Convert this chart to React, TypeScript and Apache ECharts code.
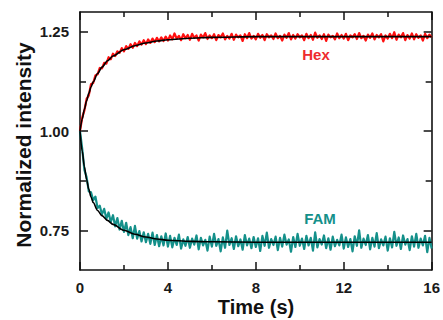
import React, { useEffect, useRef } from "react";
import * as echarts from "echarts";

const STEP = 0.1;
const hexValues = [
  1.000, 1.034, 1.052, 1.081, 1.090, 1.118, 1.121, 1.140, 1.143, 1.159,
  1.158, 1.172, 1.170, 1.186, 1.181, 1.195, 1.189, 1.201, 1.197, 1.209,
  1.201, 1.214, 1.207, 1.219, 1.210, 1.222, 1.214, 1.226, 1.218, 1.229,
  1.219, 1.231, 1.222, 1.233, 1.224, 1.235, 1.226, 1.236, 1.227, 1.238,
  1.228, 1.241, 1.231, 1.246, 1.233, 1.240, 1.229, 1.244, 1.234, 1.242,
  1.230, 1.245, 1.235, 1.241, 1.228, 1.243, 1.236, 1.247, 1.232, 1.241,
  1.234, 1.244, 1.229, 1.242, 1.236, 1.246, 1.231, 1.240, 1.233, 1.245,
  1.230, 1.243, 1.236, 1.241, 1.227, 1.244, 1.234, 1.247, 1.233, 1.240,
  1.231, 1.245, 1.235, 1.242, 1.229, 1.244, 1.236, 1.241, 1.232, 1.246,
  1.234, 1.240, 1.228, 1.243, 1.235, 1.247, 1.231, 1.242, 1.233, 1.244,
  1.236, 1.241, 1.229, 1.245, 1.234, 1.242, 1.230, 1.248, 1.235, 1.241,
  1.232, 1.244, 1.227, 1.243, 1.236, 1.240, 1.231, 1.246, 1.234, 1.242,
  1.233, 1.245, 1.229, 1.241, 1.236, 1.244, 1.232, 1.247, 1.234, 1.240,
  1.228, 1.243, 1.235, 1.246, 1.231, 1.242, 1.236, 1.244, 1.226, 1.241,
  1.233, 1.245, 1.234, 1.249, 1.230, 1.243, 1.236, 1.247, 1.229, 1.242,
  1.233, 1.246, 1.231, 1.244, 1.235, 1.241, 1.228, 1.245, 1.234, 1.243,
  1.236,
];
const famValues = [
  1.000, 0.956, 0.902, 0.884, 0.848, 0.846, 0.826, 0.835, 0.806, 0.812,
  0.790, 0.804, 0.779, 0.795, 0.771, 0.788, 0.760, 0.781, 0.752, 0.774,
  0.746, 0.769, 0.738, 0.758, 0.730, 0.761, 0.729, 0.748, 0.722, 0.745,
  0.720, 0.741, 0.716, 0.744, 0.713, 0.738, 0.710, 0.735, 0.712, 0.742,
  0.709, 0.736, 0.707, 0.731, 0.713, 0.739, 0.704, 0.727, 0.711, 0.733,
  0.706, 0.729, 0.714, 0.737, 0.702, 0.731, 0.712, 0.726, 0.699, 0.734,
  0.709, 0.741, 0.711, 0.728, 0.697, 0.732, 0.706, 0.749, 0.713, 0.730,
  0.703, 0.735, 0.710, 0.727, 0.701, 0.738, 0.712, 0.729, 0.705, 0.733,
  0.708, 0.730, 0.698, 0.736, 0.711, 0.744, 0.706, 0.728, 0.713, 0.734,
  0.700, 0.731, 0.709, 0.739, 0.714, 0.727, 0.696, 0.733, 0.708, 0.741,
  0.711, 0.729, 0.703, 0.736, 0.712, 0.731, 0.699, 0.745, 0.707, 0.728,
  0.714, 0.737, 0.705, 0.730, 0.701, 0.734, 0.710, 0.726, 0.712, 0.739,
  0.704, 0.732, 0.708, 0.728, 0.697, 0.735, 0.711, 0.750, 0.706, 0.729,
  0.713, 0.738, 0.702, 0.731, 0.709, 0.743, 0.705, 0.727, 0.712, 0.734,
  0.699, 0.730, 0.707, 0.746, 0.711, 0.732, 0.703, 0.737, 0.714, 0.728,
  0.700, 0.735, 0.709, 0.741, 0.706, 0.729, 0.712, 0.736, 0.695, 0.731,
  0.704,
];
const fitTimes = [0, 0.1, 0.2, 0.3, 0.4, 0.5, 0.6, 0.8, 1.0, 1.25, 1.5, 2, 2.5, 3, 3.5, 4, 5, 6, 8, 10, 12, 14, 16];
const hexFit = [1.000, 1.030, 1.055, 1.076, 1.095, 1.111, 1.124, 1.145, 1.161, 1.177, 1.189, 1.205, 1.215, 1.222, 1.227, 1.230, 1.234, 1.236, 1.238, 1.238, 1.238, 1.238, 1.238];
const famFit = [1.000, 0.950, 0.910, 0.878, 0.853, 0.834, 0.820, 0.800, 0.787, 0.775, 0.765, 0.750, 0.740, 0.733, 0.728, 0.725, 0.722, 0.721, 0.720, 0.720, 0.720, 0.720, 0.720];
const yMajorTicks = [0.75, 1.0, 1.25];
const yMinorTicks = [0.875, 1.125];

const RED = "#ff1010";
const TEAL = "#14908a";
const FONT = "'Liberation Sans', Arial, sans-serif";

export default function App() {
  const ref = useRef<HTMLDivElement>(null);
  useEffect(() => {
    if (!ref.current) return;
    const chart = echarts.init(ref.current, null, { renderer: "svg" });
    const toPairs = (vals: number[]) => vals.map((v, i) => [+(i * STEP).toFixed(1), v]);
    const fitPairs = (vals: number[]) => vals.map((v, i) => [fitTimes[i], v]);
    const axisLine = { show: true, lineStyle: { color: "#111", width: 1.6 } };
    const xCommon = {
      type: "value" as const,
      min: 0,
      max: 16,
      interval: 4,
      axisLine,
      splitLine: { show: false },
      axisTick: { inside: true, length: 8, lineStyle: { color: "#111", width: 1.5 } },
      minorTick: { show: true, splitNumber: 2, length: 5, lineStyle: { color: "#111", width: 1.5 } },
    };
    const yMajor = (pos: "left" | "right", labels: boolean) => ({
      type: "value" as const,
      position: pos,
      min: 0.65,
      max: 1.3,
      axisLine,
      splitLine: { show: false },
      axisTick: { inside: true, length: 8, customValues: yMajorTicks, lineStyle: { color: "#111", width: 1.5 } },
      axisLabel: {
        show: labels,
        customValues: yMajorTicks,
        formatter: (v: number) => v.toFixed(2),
        color: "#1a1a1a",
        fontFamily: FONT,
        fontWeight: "bold",
        fontSize: 15,
        margin: 11,
      },
    });
    const yMinor = (pos: "left" | "right") => ({
      type: "value" as const,
      position: pos,
      min: 0.65,
      max: 1.3,
      axisLine: { show: false },
      splitLine: { show: false },
      axisTick: { inside: true, length: 6, customValues: yMinorTicks, lineStyle: { color: "#111", width: 1.5 } },
      axisLabel: { show: false, customValues: yMinorTicks },
    });
    chart.setOption({
      animation: false,
      grid: { left: 80, right: 11, top: 12, bottom: 50 },
      xAxis: [
        {
          ...xCommon,
          position: "bottom",
          axisLabel: { color: "#1a1a1a", fontFamily: FONT, fontWeight: "bold", fontSize: 15, margin: 10 },
        },
        { ...xCommon, position: "top", axisLabel: { show: false } },
      ],
      yAxis: [yMajor("left", true), yMinor("left"), yMajor("right", false), yMinor("right")],
      series: [
        {
          type: "line",
          data: toPairs(hexValues),
          showSymbol: false,
          lineStyle: { color: RED, width: 2.2, join: "round" },
          z: 2,
        },
        {
          type: "line",
          data: toPairs(famValues),
          showSymbol: false,
          lineStyle: { color: TEAL, width: 2.2, join: "round" },
          z: 2,
        },
        {
          type: "line",
          data: fitPairs(hexFit),
          showSymbol: false,
          smooth: 0.3,
          smoothMonotone: "x",
          lineStyle: { color: "#000", width: 1.6 },
          z: 3,
        },
        {
          type: "line",
          data: fitPairs(famFit),
          showSymbol: false,
          smooth: 0.3,
          smoothMonotone: "x",
          lineStyle: { color: "#000", width: 1.6 },
          z: 3,
        },
      ],
      graphic: [
        {
          type: "text",
          x: 256,
          y: 307,
          style: { text: "Time (s)", fill: "#111", font: `bold 20px ${FONT}`, align: "center", verticalAlign: "middle" },
        },
        {
          type: "text",
          x: 23,
          y: 145,
          rotation: Math.PI / 2,
          style: { text: "Normalized intensity", fill: "#111", font: `bold 21px ${FONT}`, align: "center", verticalAlign: "middle" },
        },
        {
          type: "text",
          x: 316,
          y: 54,
          style: { text: "Hex", fill: "#ee2a2e", font: `bold 15px ${FONT}`, align: "center", verticalAlign: "middle" },
        },
        {
          type: "text",
          x: 320,
          y: 218,
          style: { text: "FAM", fill: TEAL, font: `bold 15px ${FONT}`, align: "center", verticalAlign: "middle" },
        },
      ],
    });
    return () => chart.dispose();
  }, []);
  return <div ref={ref} style={{ position: "fixed", left: 0, top: 0, width: 443, height: 320, background: "#fff" }} />;
}
